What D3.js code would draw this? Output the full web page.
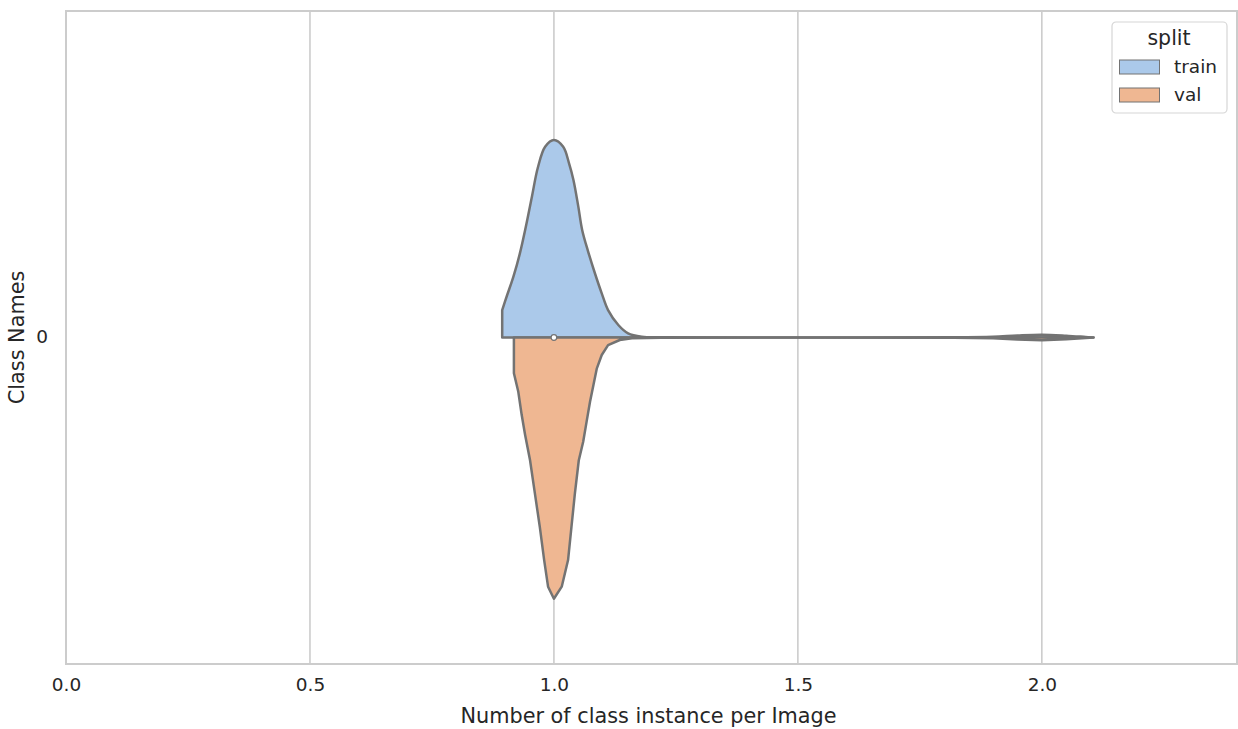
<!DOCTYPE html>
<html>
<head>
<meta charset="utf-8">
<script src="https://cdn.jsdelivr.net/npm/d3@7"></script>
<style>
  html, body { margin: 0; padding: 0; background: #ffffff; }
  svg { display: block; font-family: "DejaVu Sans", sans-serif; }
</style>
</head>
<body>
<script>
const categories = ["0"];
const xTicks = [0.0, 0.5, 1.0, 1.5, 2.0];
const splits = ["train", "val"];
const splitColors = ["#abc9ea", "#efb792"];

// density profile (value, relative half-width)
const trainX = [0.894, 0.903, 0.917, 0.930, 0.942, 0.955, 0.967, 0.982, 1.0, 1.019, 1.031, 1.040, 1.050, 1.058, 1.070, 1.084, 1.098, 1.111, 1.132, 1.152, 1.18, 1.22, 1.5, 1.82, 1.9, 1.95, 2.0, 2.05, 2.09, 2.106];
const trainD = [0.105, 0.156, 0.233, 0.32, 0.42, 0.54, 0.65, 0.73, 0.756, 0.73, 0.667, 0.603, 0.501, 0.411, 0.33, 0.246, 0.169, 0.105, 0.048, 0.016, 0.003, 0.0005, 0.0, 0.0005, 0.003, 0.008, 0.011, 0.007, 0.002, 0.0];
const valX = [0.918, 0.927, 0.934, 0.941, 0.951, 0.961, 0.971, 0.980, 0.988, 1.0, 1.016, 1.029, 1.036, 1.043, 1.051, 1.060, 1.067, 1.074, 1.081, 1.088, 1.098, 1.111, 1.135, 1.16, 1.22, 1.5, 1.82, 1.9, 1.95, 2.0, 2.05, 2.09, 2.106];
const valD = [0.137, 0.208, 0.297, 0.373, 0.469, 0.597, 0.724, 0.852, 0.954, 1.0, 0.954, 0.852, 0.724, 0.597, 0.47, 0.399, 0.322, 0.246, 0.182, 0.118, 0.067, 0.029, 0.0096, 0.003, 0.0005, 0.0, 0.0005, 0.003, 0.008, 0.011, 0.007, 0.002, 0.0];
const medianValue = 1.0;

const width = 1238, height = 729;
const margin = { top: 11, right: 1, bottom: 65, left: 66 };
const grid = "#cccccc";
const lineColor = "#737373";
const textColor = "#262626";

const svg = d3.select("body").append("svg")
  .attr("width", width)
  .attr("height", height);

const x = d3.scaleLinear()
  .domain([0, 2.4])
  .range([margin.left, width - margin.right]);

const y = d3.scaleBand()
  .domain(categories)
  .range([margin.top, height - margin.bottom]);

const halfW = y.bandwidth() * 0.4;
const w = d3.scaleLinear().domain([0, 1]).range([0, halfW]);

// grid
svg.append("g")
  .selectAll("line")
  .data(xTicks)
  .join("line")
  .attr("x1", d => x(d))
  .attr("x2", d => x(d))
  .attr("y1", margin.top)
  .attr("y2", height - margin.bottom)
  .attr("stroke", grid)
  .attr("stroke-width", 1.6);

// frame
svg.append("rect")
  .attr("x", margin.left)
  .attr("y", margin.top)
  .attr("width", width - margin.right - margin.left)
  .attr("height", height - margin.bottom - margin.top)
  .attr("fill", "none")
  .attr("stroke", grid)
  .attr("stroke-width", 2);

// x axis
const xAxis = d3.axisBottom(x)
  .tickValues(xTicks)
  .tickFormat(d3.format(".1f"))
  .tickSize(0)
  .tickPadding(14);

svg.append("g")
  .attr("transform", `translate(0,${height - margin.bottom})`)
  .call(xAxis)
  .call(sel => sel.select(".domain").remove())
  .call(sel => sel.selectAll("text")
    .style("font-family", "DejaVu Sans")
    .style("font-size", "18.5px")
    .attr("fill", textColor));

const yAxis = d3.axisLeft(y).tickSize(0).tickPadding(18);

svg.append("g")
  .attr("transform", `translate(${margin.left},0)`)
  .call(yAxis)
  .call(sel => sel.select(".domain").remove())
  .call(sel => sel.selectAll("text")
    .style("font-family", "DejaVu Sans")
    .style("font-size", "18.5px")
    .attr("fill", textColor));

svg.append("text")
  .attr("x", x(1.2) - 3)
  .attr("y", 723)
  .attr("text-anchor", "middle")
  .attr("fill", textColor)
  .style("font-size", "20.8px")
  .text("Number of class instance per Image");

svg.append("text")
  .attr("transform", `translate(24,${y("0") + y.bandwidth() / 2}) rotate(-90)`)
  .attr("text-anchor", "middle")
  .attr("fill", textColor)
  .style("font-size", "20.8px")
  .text("Class Names");

// violins
const cy = y("0") + y.bandwidth() / 2;

const upper = d3.area()
  .x(d => x(d[0]))
  .y0(cy)
  .y1(d => cy - w(d[1]))
  .curve(d3.curveCatmullRom.alpha(0.5));

const lower = d3.area()
  .x(d => x(d[0]))
  .y0(cy)
  .y1(d => cy + w(d[1]))
  .curve(d3.curveLinear);

const trainPts = trainX.map((v, i) => [v, trainD[i]]);
const valPts = valX.map((v, i) => [v, valD[i]]);

svg.append("path")
  .datum(trainPts)
  .attr("d", upper)
  .attr("fill", splitColors[0])
  .attr("stroke", lineColor)
  .attr("stroke-width", 2.5)
  .attr("stroke-linejoin", "round");

svg.append("path")
  .datum(valPts)
  .attr("d", lower)
  .attr("fill", splitColors[1])
  .attr("stroke", lineColor)
  .attr("stroke-width", 2.5)
  .attr("stroke-linejoin", "round");

svg.append("circle")
  .attr("cx", x(medianValue))
  .attr("cy", cy)
  .attr("r", 2.8)
  .attr("fill", "#ffffff")
  .attr("stroke", lineColor)
  .attr("stroke-width", 1.2);

// legend
const lg = svg.append("g").attr("transform", "translate(1112,22)");
lg.append("rect")
  .attr("width", 115)
  .attr("height", 91)
  .attr("rx", 4)
  .attr("fill", "#ffffff")
  .attr("fill-opacity", 0.8)
  .attr("stroke", "#d6d6d6")
  .attr("stroke-width", 1.2);

lg.append("text")
  .attr("x", 57)
  .attr("y", 23)
  .attr("text-anchor", "middle")
  .attr("fill", textColor)
  .style("font-size", "20.5px")
  .text("split");

splits.forEach((s, i) => {
  const row = lg.append("g").attr("transform", `translate(0,${38 + i * 28})`);
  row.append("rect")
    .attr("x", 7.5)
    .attr("y", 0)
    .attr("width", 40)
    .attr("height", 14)
    .attr("fill", splitColors[i])
    .attr("stroke", lineColor)
    .attr("stroke-width", 1);
  row.append("text")
    .attr("x", 62)
    .attr("y", 13)
    .attr("fill", textColor)
    .style("font-size", "18.5px")
    .text(s);
});
</script>
</body>
</html>
